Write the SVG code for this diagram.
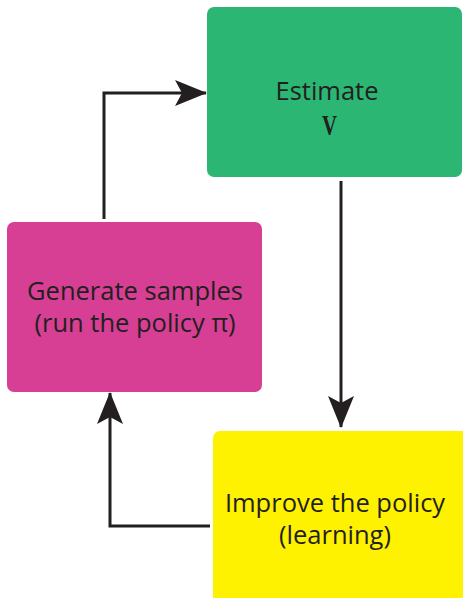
<svg xmlns="http://www.w3.org/2000/svg" width="463" height="598" viewBox="0 0 463 598">
  <style>
    .box-label { font-family: "Open Sans", "Noto Sans", sans-serif; font-size: 25.5px; fill: #231f20; text-anchor: middle; }
    .sym { font-family: "Liberation Serif", "DejaVu Serif", serif; font-size: 30px; font-weight: bold; fill: #231f20; }
    .link { fill: none; stroke: #231f20; stroke-width: 3; }
  </style>
  <defs>
    <marker id="head" viewBox="0 0 32 26" refX="31" refY="13" markerWidth="32" markerHeight="26" markerUnits="userSpaceOnUse" orient="auto">
      <path d="M0,0 L32,13 L0,26 L7,13 Z" fill="#231f20"/>
    </marker>
  </defs>
  <rect width="463" height="598" fill="#ffffff"/>

  <g id="connectors">
    <path class="link" d="M104,219 V93 H206" marker-end="url(#head)"/>
    <path class="link" d="M341,181 V427" marker-end="url(#head)"/>
    <path class="link" d="M210,526 H110 V393" marker-end="url(#head)"/>
  </g>

  <g id="estimate">
    <rect x="207" y="7" width="255" height="170" rx="7" fill="#2bb673"/>
    <text class="box-label" x="327" y="100">Estimate</text>
    <text class="sym" x="322" y="135" textLength="15" lengthAdjust="spacingAndGlyphs">V</text>
  </g>

  <g id="generate">
    <rect x="7" y="222" width="255" height="170" rx="7" fill="#d63f93"/>
    <text class="box-label" x="135" y="300">Generate samples</text>
    <text class="box-label" x="135" y="332">(run the policy π)</text>
  </g>

  <g id="improve">
    <rect x="213" y="431" width="262" height="175" rx="7" fill="#fff200"/>
    <text class="box-label" x="335" y="512">Improve the policy</text>
    <text class="box-label" x="335" y="544">(learning)</text>
  </g>
</svg>
